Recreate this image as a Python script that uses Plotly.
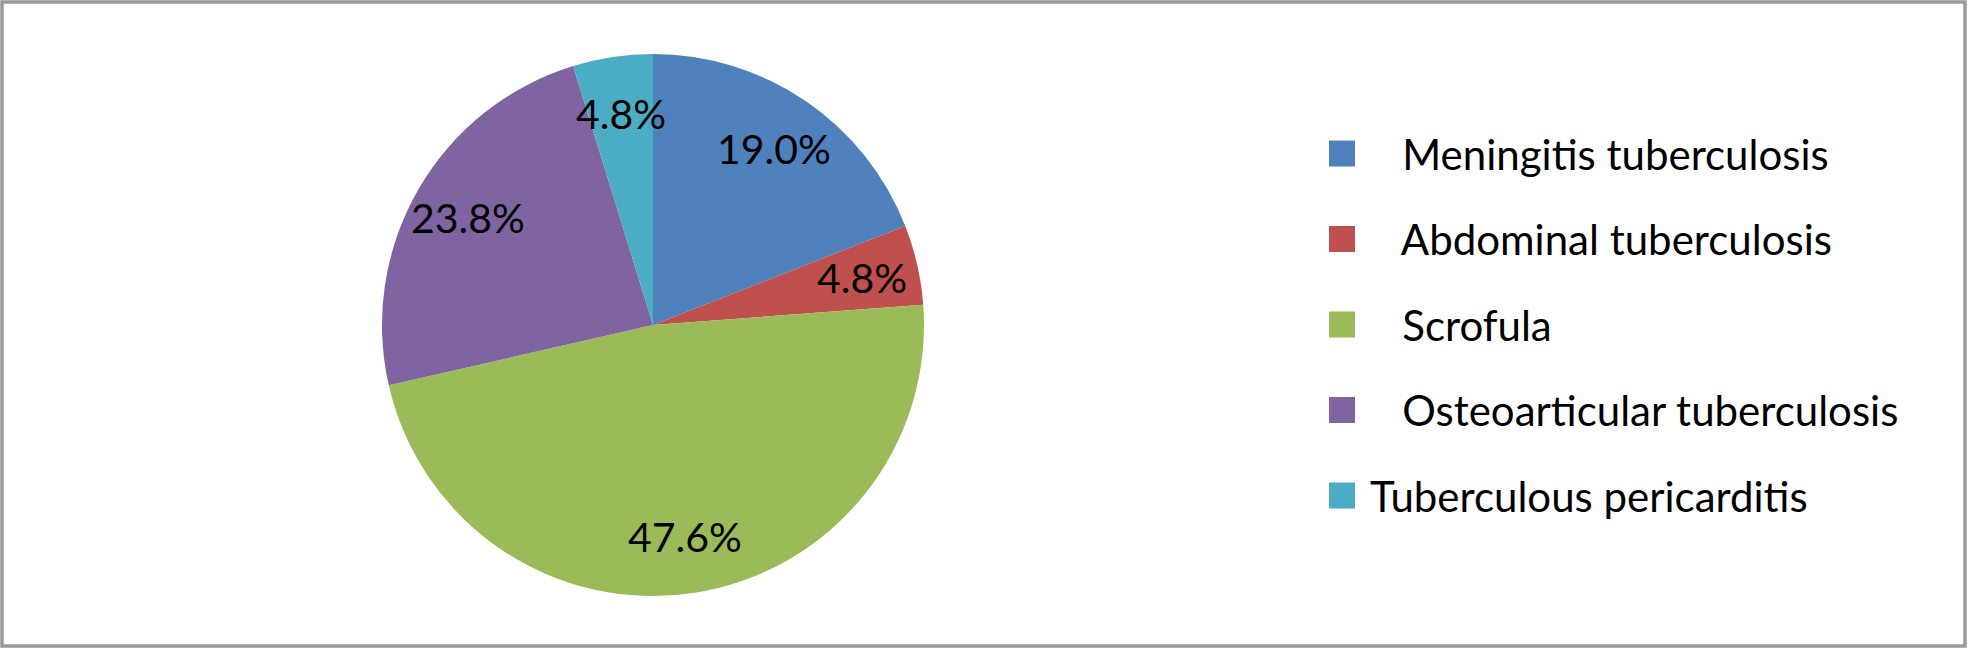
import numpy as np
import plotly.graph_objects as go

# ---- data ----
categories = ["Meningitis tuberculosis", "Abdominal tuberculosis", "Scrofula",
              "Osteoarticular tuberculosis", "Tuberculous pericarditis"]
legend_labels = ["\u00a0\u00a0\u00a0Meningitis tuberculosis",
                 "\u00a0\u00a0\u00a0Abdominal tuberculosis",
                 "\u00a0\u00a0\u00a0Scrofula",
                 "\u00a0\u00a0\u00a0Osteoarticular tuberculosis",
                 "Tuberculous pericarditis"]
counts = [4, 1, 10, 5, 1]
colors = ["#4F81BD", "#C0504D", "#9BBB59", "#8064A2", "#4BACC6"]

W, H = 1969, 650
FONT = "Lato"

# pie geometry (pixels)
cx, cy, r = 653, 325, 271

fig = go.Figure()
fig.add_trace(go.Pie(
    labels=categories, values=counts, sort=False, direction="clockwise",
    rotation=0, marker=dict(colors=colors, line=dict(width=0)),
    textinfo="none", hoverinfo="label+percent", showlegend=False,
    domain=dict(x=[(cx - r) / W, (cx + r) / W], y=[1 - (cy + r) / H, 1 - (cy - r) / H]),
))

# percentage labels placed along each slice bisector
vals = np.array(counts, dtype=float)
pct = vals / vals.sum()
ends = np.cumsum(pct) * 360
starts = ends - pct * 360
mids = np.radians((starts + ends) / 2)
annotations = []
frac = 0.79
for p, a in zip(pct, mids):
    x = (cx + frac * r * np.sin(a)) / W
    y = 1 - (cy - frac * r * np.cos(a)) / H
    annotations.append(dict(x=x, y=y, xref="paper", yref="paper", text=f"{p*100:.1f}%",
                            showarrow=False, font=dict(family=FONT, size=41, color="black"),
                            xanchor="center", yanchor="middle"))

# legend (custom)
shapes = []
leg_sq_x0, sq = 1329, 26
leg_y0, leg_dy = 153.5, 85.5
for i, (lab, col) in enumerate(zip(legend_labels, colors)):
    yc = leg_y0 + i * leg_dy
    shapes.append(dict(type="rect", xref="paper", yref="paper",
                       x0=leg_sq_x0 / W, x1=(leg_sq_x0 + sq) / W,
                       y0=1 - (yc + sq / 2) / H, y1=1 - (yc - sq / 2) / H,
                       fillcolor=col, line=dict(width=0)))
    annotations.append(dict(x=1368 / W, y=1 - yc / H, xref="paper", yref="paper",
                            text=lab, showarrow=False, xanchor="left", yanchor="middle",
                            font=dict(family=FONT, size=42, color="black")))

# outer frame
shapes.append(dict(type="rect", xref="paper", yref="paper",
                   x0=2 / W, x1=1965 / W, y0=1 - 646 / H, y1=1 - 2 / H,
                   line=dict(color="#9a9a9a", width=3.5)))

fig.update_layout(width=W, height=H, margin=dict(l=0, r=0, t=0, b=0),
                  paper_bgcolor="white", plot_bgcolor="white",
                  shapes=shapes, annotations=annotations, showlegend=False)

fig.write_html("out.html", config={"displayModeBar": False},
               post_script="document.body.style.margin='0';")
